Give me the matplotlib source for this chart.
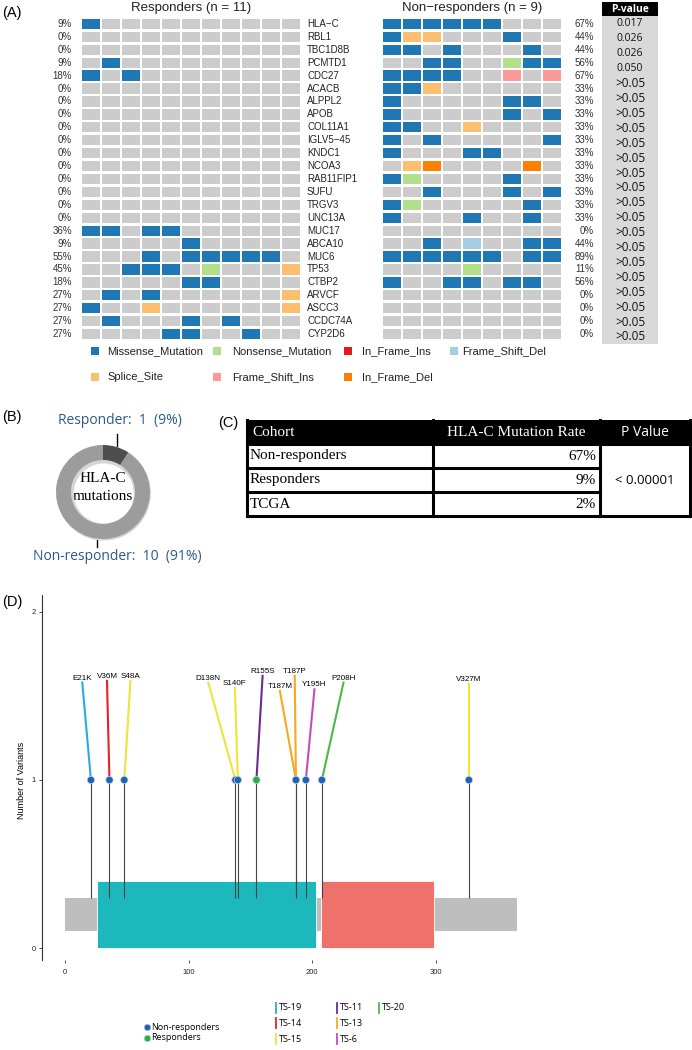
import numpy as np
import matplotlib
matplotlib.use("Agg")
import matplotlib.pyplot as plt
from matplotlib.patches import Rectangle

plt.rcParams["font.family"] = ["Liberation Sans", "DejaVu Sans"]

W, H = 692, 1050

# ---------------- data: panel A (oncoprint) ----------------
genes = ["HLA−C", "RBL1", "TBC1D8B", "PCMTD1", "CDC27", "ACACB", "ALPPL2", "APOB",
         "COL11A1", "IGLV5−45", "KNDC1", "NCOA3", "RAB11FIP1", "SUFU", "TRGV3", "UNC13A",
         "MUC17", "ABCA10", "MUC6", "TP53", "CTBP2", "ARVCF", "ASCC3", "CCDC74A", "CYP2D6"]

# M missense, N nonsense, I in-frame ins, F frame-shift del, S splice, P frame-shift ins, D in-frame del
responders = [
    "M..........", "...........", "...........", ".M.........", "M.M........",
    "...........", "...........", "...........", "...........", "...........",
    "...........", "...........", "...........", "...........", "...........",
    "...........", "MM.MM......", ".....M.....", "...M.MMMMM.", "..MMM.N...S",
    ".....MM....", ".M.M......S", "M..S......S", ".M...M.M...", "....MM..M..",
]
non_responders = [
    "MMMMMM...", "MSS...M..", "MM.M...M.", "..MM..NMM", "MMMM..P.P",
    "MMS......", "M.....MM.", "M.....M.M", "MM..S....", "M.M.....M",
    "M...MM...", ".SD....D.", "MN....M..", "..M...M.M", "MN.....M.",
    "M...M..M.", ".........", "..M.F..MM", "MMMMMM.MM", "....N....",
    "M..MM.MM.", ".........", ".........", ".........", ".........",
]
resp_pct = ["9%", "0%", "0%", "9%", "18%", "0%", "0%", "0%", "0%", "0%", "0%", "0%", "0%",
            "0%", "0%", "0%", "36%", "9%", "55%", "45%", "18%", "27%", "27%", "27%", "27%"]
nonresp_pct = ["67%", "44%", "44%", "56%", "67%", "33%", "33%", "33%", "33%", "33%", "33%",
               "33%", "33%", "33%", "33%", "33%", "0%", "44%", "89%", "11%", "56%", "0%",
               "0%", "0%", "0%"]
p_values = ["0.017", "0.026", "0.026", "0.050"] + [">0.05"] * 18

mut_names = ["Missense_Mutation", "Nonsense_Mutation", "In_Frame_Ins", "Frame_Shift_Del",
             "Splice_Site", "Frame_Shift_Ins", "In_Frame_Del"]
mut_codes = ["M", "N", "I", "F", "S", "P", "D"]
mut_colors = ["#1F78B4", "#B2DF8A", "#E31A1C", "#A6CEE3", "#FDBF6F", "#FB9A99", "#FF7F00"]
code_color = dict(zip(mut_codes, mut_colors))
code_color["."] = "#CCCCCC"

# ---------------- data: panel B / C ----------------
donut_counts = [1, 10]
donut_labels = ["Responder:  1  (9%)", "Non-responder:  10  (91%)"]
table_header = ["Cohort", "HLA-C Mutation Rate", "P Value"]
table_cohorts = ["Non-responders", "Responders", "TCGA"]
table_rates = ["67%", "9%", "2%"]
table_p = "< 0.00001"

# ---------------- data: panel D (lollipop) ----------------
protein_len = 366
domains = [(26, 203, "#1DB8BB"), (207, 299, "#EF716C")]
var_names = ["E21K", "V36M", "S48A", "D138N", "S140F", "R155S", "T187M", "T187P",
             "Y195H", "P208H", "V327M"]
var_pos = [21, 36, 48, 138, 140, 155, 187, 187, 195, 208, 327]
var_group = ["NR", "NR", "NR", "NR", "NR", "R", "NR", "NR", "NR", "NR", "NR"]
var_sample = ["TS-19", "TS-14", "TS-15", "TS-15", "TS-15", "TS-11", "TS-13", "TS-13",
              "TS-6", "TS-20", "TS-15"]
label_x = [14, 34, 53, 116, 137.5, 160, 174, 186, 202, 225.5, 327]
label_y = [1.58, 1.59, 1.59, 1.58, 1.55, 1.62, 1.53, 1.62, 1.54, 1.58, 1.57]
sample_colors = {"TS-19": "#29ABE2", "TS-14": "#E8202A", "TS-15": "#EEE43A",
                 "TS-11": "#6A2C91", "TS-13": "#F7A823", "TS-6": "#C54BB5",
                 "TS-20": "#4DB848"}
group_colors = {"NR": "#1B64BE", "R": "#25B14A"}


fig = plt.figure(figsize=(W / 100, H / 100), dpi=100)


def px_axes(x0, y0, x1, y1, **kw):
    return fig.add_axes([x0 / W, 1 - y1 / H, (x1 - x0) / W, (y1 - y0) / H], **kw)


ov = px_axes(0, 0, W, H)
ov.set_xlim(0, W)
ov.set_ylim(H, 0)
ov.axis("off")

# ---------------- panel A ----------------
ov.text(2, 13, "(A)", fontsize=10.5, va="center", ha="left")


def oncoprint(x0, x1, mat, title):
    ax = px_axes(x0, 17.5, x1, 340.5)
    ncol = len(mat[0])
    ax.set_xlim(0, ncol)
    ax.set_ylim(len(mat), 0)
    ax.axis("off")
    for r, row in enumerate(mat):
        for c, code in enumerate(row):
            ax.add_patch(Rectangle((c + 0.035, r + 0.1), 0.93, 0.8,
                                   fc=code_color[code], lw=0))
    ov.text((x0 + x1) / 2, 8, title, fontsize=9.5, ha="center", va="center", color="#222")
    return ax


axr = oncoprint(81, 301, responders, "Responders (n = 11)")
for r, (g, p) in enumerate(zip(genes, resp_pct)):
    axr.text(-0.45, r + 0.5, p, ha="right", va="center", fontsize=7, color="#333")
    axr.text(11.3, r + 0.5, g, ha="left", va="center", fontsize=7, color="#222")

axn = oncoprint(382, 562, non_responders, "Non−responders (n = 9)")
for r, p in enumerate(nonresp_pct):
    axn.text(10.6, r + 0.5, p, ha="right", va="center", fontsize=7, color="#333")

# p-value column
ov.add_patch(Rectangle((602, 16), 56, 328, fc="#D9D9D9", lw=0))
ov.add_patch(Rectangle((602, 2), 56, 14, fc="black", lw=0))
ov.text(630, 9.5, "P-value", color="white", fontsize=7.5, fontweight="bold",
        ha="center", va="center", family=["Open Sans", "DejaVu Sans"])
for y, p in zip(np.linspace(24, 337, len(p_values)), p_values):
    ov.text(630, y, p, ha="center", va="center", color="#111",
            fontsize=7.5 if p[0] != ">" else 8.5, family=["Open Sans", "DejaVu Sans"])

# legend
leg_sq_x = [91, 213, 344, 450]
leg_tx_x = [107, 232, 362, 462]
for i, (name, color) in enumerate(zip(mut_names, mut_colors)):
    row, col = divmod(i, 4)
    y = [351, 377][row]
    ov.add_patch(Rectangle((leg_sq_x[col], y - 4), 8, 8, fc=color, lw=0))
    ov.text(leg_tx_x[col], y, name, fontsize=8, va="center", ha="left", color="#222")

# ---------------- panel B ----------------
ov.text(2, 417, "(B)", fontsize=10.5, va="center", ha="left")
axb = px_axes(43, 432, 163, 552)
axb.pie([1], colors=["#D6D6D6"], radius=47, center=(0.8, -1.5),
        wedgeprops=dict(width=17, edgecolor="none"))
axb.pie(donut_counts, colors=["#4E4E4E", "#9C9C9C"], radius=47, startangle=90,
        counterclock=False, wedgeprops=dict(width=15, edgecolor="none"))
axb.set_xlim(-60, 60)
axb.set_ylim(-60, 60)
axb.set_aspect("equal")
axb.axis("off")
ov.text(103, 478, "HLA-C", fontsize=11, ha="center", va="center",
        family=["Liberation Serif", "DejaVu Serif"])
ov.text(103, 497, "mutations", fontsize=11, ha="center", va="center",
        family=["Liberation Serif", "DejaVu Serif"])
ov.plot([117, 117], [434, 446], color="black", lw=1)
ov.plot([97, 97], [533, 547], color="black", lw=1)
ov.text(120, 421, donut_labels[0], fontsize=10, ha="center", va="center",
        color="#2A5A8C", family=["Open Sans", "DejaVu Sans"])
ov.text(117, 557, donut_labels[1], fontsize=10, ha="center", va="center",
        color="#2A5A8C", family=["Open Sans", "DejaVu Sans"])

# ---------------- panel C ----------------
ov.text(218, 423, "(C)", fontsize=10.5, va="center", ha="left")
col_edges = [247, 433, 600, 690]
row_edges = [420, 444, 468, 492, 516]
serif = ["Liberation Serif", "DejaVu Serif"]
ov.add_patch(Rectangle((col_edges[0], row_edges[0]), col_edges[-1] - col_edges[0],
                       row_edges[1] - row_edges[0], fc="black", lw=0))
ov.text(col_edges[0] + 5, 432, table_header[0], color="white", fontsize=11,
        va="center", ha="left", family=serif)
ov.text((col_edges[1] + col_edges[2]) / 2, 432, table_header[1], color="white",
        fontsize=11, va="center", ha="center", family=serif)
ov.text((col_edges[2] + col_edges[3]) / 2, 432, table_header[2], color="white",
        fontsize=10, va="center", ha="center", family=["Open Sans", "DejaVu Sans"])
lw_t = 2.2
for x in col_edges:
    ov.plot([x, x], [row_edges[0], row_edges[-1]], color="black", lw=lw_t,
            solid_capstyle="projecting")
for i, y in enumerate(row_edges[1:]):
    x_end = col_edges[-1] if y in (row_edges[1], row_edges[-1]) else col_edges[2]
    ov.plot([col_edges[0], x_end], [y, y], color="black", lw=lw_t,
            solid_capstyle="projecting")
for i, (c, r) in enumerate(zip(table_cohorts, table_rates)):
    yc = (row_edges[i + 1] + row_edges[i + 2]) / 2
    ov.text(col_edges[0] + 3, yc, c, fontsize=11, va="center", ha="left", family=serif)
    ov.text(col_edges[2] - 4, yc, r, fontsize=11, va="center", ha="right", family=serif)
ov.text((col_edges[2] + col_edges[3]) / 2, (row_edges[1] + row_edges[-1]) / 2, table_p,
        fontsize=9.5, va="center", ha="center", family=["Open Sans", "DejaVu Sans"])

# ---------------- panel D ----------------
ov.text(2, 602, "(D)", fontsize=10.5, va="center", ha="left")
axd = px_axes(42, 595, 560, 960)
axd.set_xlim(-18.62, 400.8)
axd.set_ylim(-0.0714, 2.101)
for s in ["top", "right", "bottom"]:
    axd.spines[s].set_visible(False)
axd.spines["left"].set_color("#333")
axd.spines["left"].set_linewidth(0.8)
axd.set_xticks([0, 100, 200, 300])
axd.set_yticks([0, 1, 2])
axd.tick_params(axis="both", labelsize=5.5, length=2.5, width=0.6, color="#333",
                labelcolor="#222", pad=2)
axd.tick_params(axis="x", pad=4)

axd.add_patch(Rectangle((0, 0.1), protein_len, 0.2, fc="#BEBEBE", lw=0, zorder=1))
for start, end, color in domains:
    axd.add_patch(Rectangle((start, 0), end - start, 0.4, fc=color, lw=0.6,
                            ec="white", zorder=2))
axd.vlines(var_pos, 0.3, 1, color="#444", lw=0.8, zorder=3)
for p, lx, ly, s in zip(var_pos, label_x, label_y, var_sample):
    axd.plot([p, lx], [1, ly], color=sample_colors[s], lw=1.5, zorder=4)
for name, lx, ly in zip(var_names, label_x, label_y):
    axd.text(lx, ly + 0.005, name, fontsize=5.8, ha="center", va="bottom",
             family=["Liberation Sans Narrow", "Liberation Sans", "DejaVu Sans"])
axd.scatter(var_pos, [1] * len(var_pos), s=28, c=[group_colors[g] for g in var_group],
            edgecolors="#d0d0d0", linewidths=0.5, zorder=5)

ov.text(262, 632, "HLA−C", fontsize=6, fontweight="bold", ha="center", va="center")
ov.text(22, 780, "Number of Variants", fontsize=6.5, rotation=90, ha="center", va="center")

# legend D
ov.scatter([147], [1027], s=22, c=group_colors["NR"], edgecolors="#ccc", linewidths=0.4)
ov.scatter([147], [1038], s=22, c=group_colors["R"], edgecolors="#ccc", linewidths=0.4)
ov.text(151, 1027, "Non-responders", fontsize=6.5, va="center", ha="left",
        family=["Open Sans", "DejaVu Sans"])
ov.text(151, 1038, "Responders", fontsize=6.5, va="center", ha="left",
        family=["Open Sans", "DejaVu Sans"])
ts_cols = [["TS-19", "TS-14", "TS-15"], ["TS-11", "TS-13", "TS-6"], ["TS-20"]]
ts_x = [276, 337, 379]
ts_y = [1008, 1023, 1039]
for cx, col in zip(ts_x, ts_cols):
    for y, s in zip(ts_y, col):
        ov.plot([cx, cx], [y - 5, y + 5], color=sample_colors[s], lw=1.3)
        ov.text(cx + 3, y, s, fontsize=6.5, va="center", ha="left",
                family=["Open Sans", "DejaVu Sans"])

fig.savefig("out.png", dpi=100)
